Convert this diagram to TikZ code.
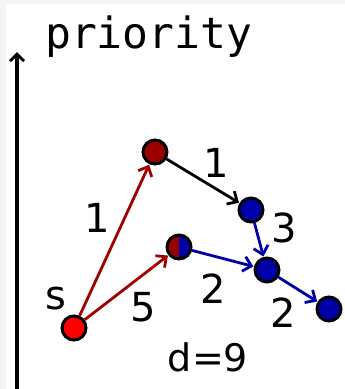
\documentclass[tikz,border=0pt]{standalone}
\usepackage{fontspec}
\setmainfont{DejaVu Sans}
\setmonofont{DejaVu Sans Mono}
\usetikzlibrary{arrows.meta}
\definecolor{dred}{HTML}{990000}
\definecolor{ered}{HTML}{A00000}
\definecolor{dblue}{HTML}{0000AA}
\definecolor{bgray}{HTML}{F4F4F4}
\begin{document}
\begin{tikzpicture}[x=1pt,y=-1pt,
  vert/.style={circle,draw=black,line width=3pt,minimum size=24pt,inner sep=0pt},
  edge/.style={line width=2.8pt,-{Straight Barb[length=8pt,width=15pt,line width=2.8pt]},shorten >=0.5pt},
  lbl/.style={font=\fontsize{40}{40}\selectfont,inner sep=0pt}]
\useasboundingbox (0,0) rectangle (345,389);
\fill[bgray] (0,0) rectangle (345,389);
\fill[white] (6,4) rectangle (345,389);
% axis
\coordinate (ax0) at (17,389);
\coordinate (ax1) at (17,52);
\draw[line width=3.2pt,-{Straight Barb[length=7pt,width=14pt,line width=3pt]}] (ax0) -- (ax1);
\node[font=\ttfamily\fontsize{43}{43}\selectfont,anchor=base west,inner sep=0pt] (pr) at (45,48) {priority};
% vertices
\node[vert,fill=red] (s) at (74,328) {};
\node[vert,fill=dred] (a) at (155,152) {};
\begin{scope}
\clip (179,247) circle (11pt);
\fill[dred] (166,234) rectangle (179,260);
\fill[dblue] (179,234) rectangle (192,260);
\end{scope}
\node[vert] (m2) at (179,247) {};
\node[vert,fill=dblue] (b) at (251,210) {};
\node[vert,fill=dblue] (c) at (267,270) {};
\node[vert,fill=dblue] (d) at (329,309) {};
% edges
\draw[edge,ered] (s) -- (a);
\draw[edge,ered] (s) -- (m2);
\draw[edge,black] (a) -- (b);
\draw[edge,dblue] (b) -- (c);
\draw[edge,dblue] (m2) -- (c);
\draw[edge,dblue] (c) -- (d);
% labels
\node[lbl] (l1) at (97,218) {1};
\node[lbl] (l2) at (216,163) {1};
\node[lbl] (l3) at (284,228) {3};
\node[lbl] (l4) at (143,307) {5};
\node[lbl] (l5) at (213,289) {2};
\node[lbl] (l6) at (283,313) {2};
\node[lbl] (ls) at (56,299) {s};
\node[lbl,font=\fontsize{38}{38}\selectfont] (ld) at (208,357) {d=9};
\end{tikzpicture}
\end{document}
